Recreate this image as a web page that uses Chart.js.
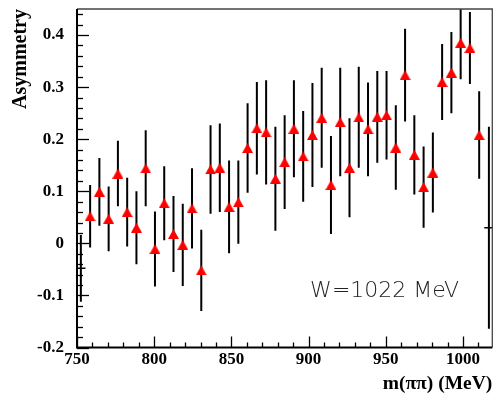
<!DOCTYPE html>
<html><head><meta charset="utf-8">
<script src="https://cdn.jsdelivr.net/npm/chart.js@4.4.1/dist/chart.umd.min.js"></script>
<style>html,body{margin:0;padding:0;background:#fff;}</style>
</head><body>
<canvas id="c" width="494" height="396"></canvas>
<script>
// ---- data ----
const massBins = [758.5,764.5,770.5,776.5,782.5,788.5,794.5,800.5,806.5,812.5,818.5,824.5,830.5,836.5,842.5,848.5,854.5,860.5,866.5,872.5,878.5,884.5,890.5,896.5,902.5,908.5,914.5,920.5,926.5,932.5,938.5,944.5,950.5,956.5,962.5,968.5,974.5,980.5,986.5,992.5,998.5,1004.5,1010.5];
const asymmetry = [0.052,0.099,0.047,0.134,0.060,0.030,0.144,-0.011,0.077,0.018,-0.003,0.067,-0.052,0.142,0.145,0.070,0.079,0.183,0.221,0.213,0.124,0.156,0.220,0.167,0.208,0.241,0.112,0.233,0.145,0.242,0.219,0.243,0.246,0.184,0.323,0.170,0.108,0.136,0.310,0.328,0.385,0.375,0.208];
const asymErr = [0.060,0.065,0.062,0.063,0.066,0.070,0.073,0.072,0.071,0.073,0.079,0.077,0.078,0.085,0.085,0.089,0.080,0.086,0.089,0.100,0.100,0.090,0.093,0.087,0.100,0.096,0.094,0.104,0.095,0.097,0.090,0.088,0.085,0.081,0.089,0.076,0.078,0.077,0.073,0.078,0.070,0.069,0.084];
const edgeBins = [752.5, 1016.8];
const edgeAsym = [-0.048, 0.030];
const edgeErr = [0.064, 0.194];
const edgeHalfWidth = [3, 3];
const xTickLabels = [750, 800, 850, 900, 950, 1000];
const yTickLabels = [-0.2, -0.1, 0, 0.1, 0.2, 0.3, 0.4];
const annotation = 'W=1022 MeV';

// ---- marker (ROOT-like filled triangle, centred on its box) ----
const tri = document.createElement('canvas');
tri.width = 11; tri.height = 10;
const tc = tri.getContext('2d');
tc.fillStyle = '#ff0000';
tc.beginPath(); tc.moveTo(5.5, 0); tc.lineTo(11, 10); tc.lineTo(0, 10); tc.closePath(); tc.fill();

const serifBold = (size) => ({family: '"Liberation Serif", "Times New Roman", serif', weight: 'bold', size: size});

const errorBarPlugin = {
  id: 'errbars',
  beforeDatasetsDraw(chart) {
    const {ctx, chartArea: a, scales: {x, y}} = chart;
    ctx.save();
    ctx.beginPath(); ctx.rect(a.left, a.top, a.right - a.left, a.bottom - a.top); ctx.clip();
    ctx.strokeStyle = '#000';
    ctx.lineWidth = 2;
    massBins.forEach((m, i) => {
      const px = x.getPixelForValue(m);
      ctx.beginPath();
      ctx.moveTo(px, y.getPixelForValue(asymmetry[i] - asymErr[i]));
      ctx.lineTo(px, y.getPixelForValue(asymmetry[i] + asymErr[i]));
      ctx.stroke();
    });
    edgeBins.forEach((m, i) => {
      const px = x.getPixelForValue(m);
      const py = y.getPixelForValue(edgeAsym[i]);
      ctx.lineWidth = 2;
      ctx.beginPath();
      ctx.moveTo(px, y.getPixelForValue(edgeAsym[i] - edgeErr[i]));
      ctx.lineTo(px, y.getPixelForValue(edgeAsym[i] + edgeErr[i]));
      ctx.stroke();
      ctx.lineWidth = 1.5;
      ctx.beginPath();
      ctx.moveTo(x.getPixelForValue(m - edgeHalfWidth[i]), py);
      ctx.lineTo(x.getPixelForValue(m + edgeHalfWidth[i]), py);
      ctx.stroke();
    });
    ctx.restore();
  }
};

const framePlugin = {
  id: 'frame',
  afterDraw(chart) {
    const {ctx, chartArea: a, scales: {x, y}} = chart;
    ctx.save();
    ctx.strokeStyle = '#000';
    ctx.lineWidth = 1.3;
    for (let v = 750; v <= 1019 + 1e-6; v += 10) {
      const px = Math.round(x.getPixelForValue(v)) + 0.5;
      const len = (Math.round(v) % 50 === 0) ? 11 : 5;
      ctx.beginPath(); ctx.moveTo(px, a.bottom); ctx.lineTo(px, a.bottom - len); ctx.stroke();
    }
    for (let k = 0; k <= 32; k++) {
      const v = -0.2 + k * 0.02;
      if (v > 0.45 + 1e-9) break;
      const py = Math.round(y.getPixelForValue(v)) + 0.5;
      const len = (k % 5 === 0) ? 12 : 6;
      ctx.beginPath(); ctx.moveTo(a.left, py); ctx.lineTo(a.left + len, py); ctx.stroke();
    }
    ctx.strokeStyle = '#444';
    ctx.lineWidth = 1.3;
    ctx.beginPath();
    ctx.moveTo(a.left, a.top); ctx.lineTo(a.right, a.top); ctx.lineTo(a.right, a.bottom);
    ctx.stroke();
    ctx.strokeStyle = '#000';
    ctx.lineWidth = 2;
    ctx.beginPath();
    ctx.moveTo(a.left, a.top); ctx.lineTo(a.left, a.bottom); ctx.lineTo(a.right, a.bottom);
    ctx.stroke();
    ctx.fillStyle = '#222';
    ctx.font = '200 22px "DejaVu Sans", "Liberation Sans", sans-serif';
    ctx.textAlign = 'left';
    ctx.textBaseline = 'alphabetic';
    ctx.fillText(annotation, x.getPixelForValue(901), y.getPixelForValue(-0.103));
    ctx.restore();
  }
};

const noPad = s => { s.paddingTop = 0; s.paddingBottom = 0; s.paddingLeft = 0; s.paddingRight = 0; };

new Chart(document.getElementById('c'), {
  type: 'scatter',
  data: {
    datasets: [
      {label: 'asym', data: massBins.map((m, i) => ({x: m, y: asymmetry[i]})), pointStyle: tri, pointRadius: 5, showLine: false},
      {label: 'edge', data: edgeBins.map((m, i) => ({x: m, y: edgeAsym[i]})), pointRadius: 0, showLine: false}
    ]
  },
  options: {
    responsive: false, animation: false, events: [],
    layout: {autoPadding: false, padding: {top: 9, right: 1.7, left: 0, bottom: 0}},
    plugins: {legend: {display: false}, tooltip: {enabled: false}},
    scales: {
      x: {
        type: 'linear', min: 750, max: 1019,
        grid: {display: false, drawTicks: false}, border: {display: false},
        afterBuildTicks: s => { s.ticks = xTickLabels.map(v => ({value: v})); },
        afterFit: s => { s.height = 48.5; noPad(s); },
        ticks: {font: serifBold(17), color: '#000', padding: 2, maxRotation: 0, autoSkip: false, callback: v => String(v)},
        title: {display: true, text: 'm(ππ) (MeV)', align: 'end', font: serifBold(19.5), color: '#000', padding: {top: 0, bottom: 0}}
      },
      y: {
        type: 'linear', min: -0.2, max: 0.45,
        grid: {display: false, drawTicks: false}, border: {display: false},
        afterBuildTicks: s => { s.ticks = yTickLabels.map(v => ({value: v})); },
        afterFit: s => { s.width = 77; noPad(s); },
        ticks: {font: serifBold(17), color: '#000', padding: 13, autoSkip: false, callback: v => String(v)},
        title: {display: true, text: 'Asymmetry', align: 'end', font: serifBold(20), color: '#000', padding: {top: 9, bottom: 0}}
      }
    }
  },
  plugins: [errorBarPlugin, framePlugin]
});
</script>
</body></html>
